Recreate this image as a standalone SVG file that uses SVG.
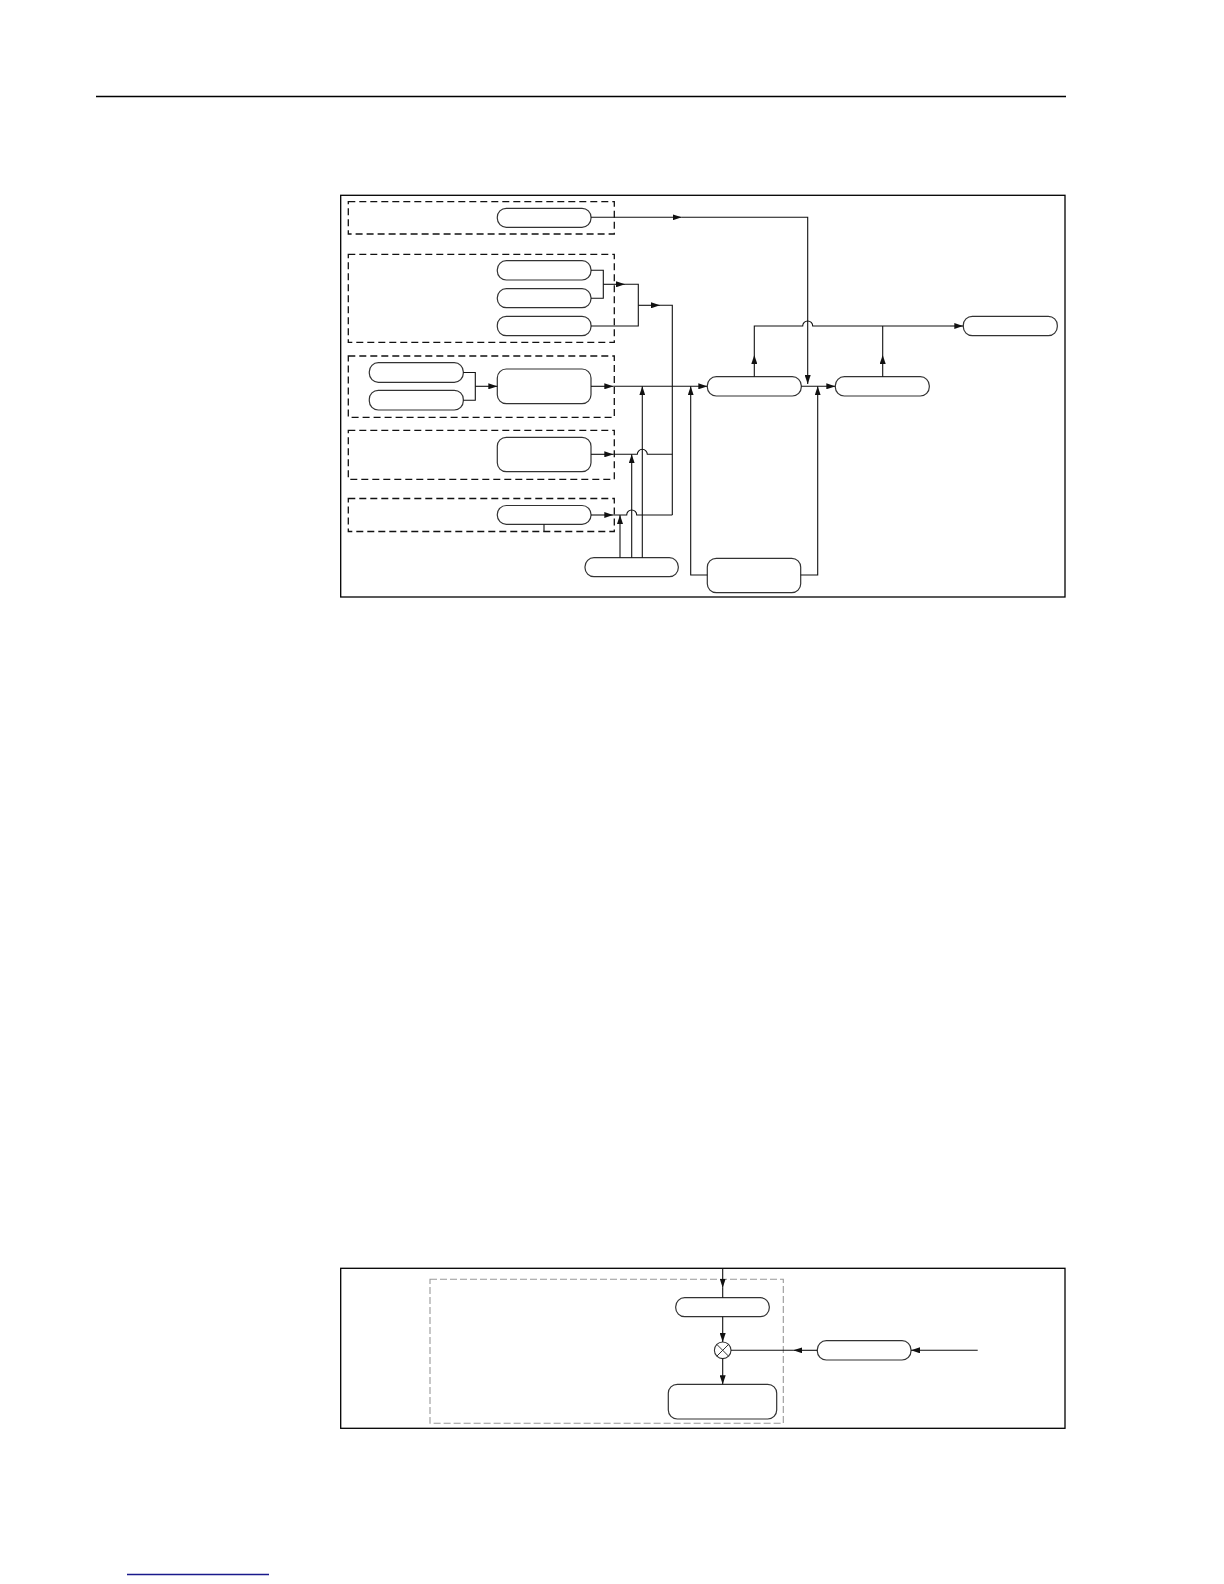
<svg xmlns="http://www.w3.org/2000/svg" width="1224" height="1584" viewBox="0 0 1224 1584">
<style>
.frame{fill:none;stroke:#000;stroke-width:1.3}
.dash{fill:none;stroke:#111;stroke-width:1.3;stroke-dasharray:7,4}
.dashg{fill:none;stroke:#999;stroke-width:1.1;stroke-dasharray:7,3}
.node{fill:#fff;stroke:#333;stroke-width:1.2}
.wire{fill:none;stroke:#111;stroke-width:1.1}
.arr{fill:none;stroke:#111;stroke-width:1.1;marker-end:url(#ah)}
</style>
<defs>
<marker id="ah" markerUnits="userSpaceOnUse" markerWidth="9" markerHeight="6" refX="9" refY="3" orient="auto">
<path d="M0,0 L9,3 L0,6 z" fill="#111"/>
</marker>
</defs>
<rect width="1224" height="1584" fill="#fff"/>
<line x1="96" y1="96.5" x2="1066" y2="96.5" stroke="#000" stroke-width="1.4"/>
<line x1="127" y1="1574.5" x2="269" y2="1574.5" stroke="#1a1a8c" stroke-width="1.4"/>

<g id="figure-top">
<rect class="frame" x="340.7" y="195.3" width="724.3" height="401.7"/>
<g id="group1"><rect class="dash" x="348.3" y="201.7" width="266" height="32.3"/></g>
<g id="group2"><rect class="dash" x="348.3" y="254.3" width="266" height="88"/></g>
<g id="group3"><rect class="dash" x="348.3" y="356" width="266" height="61.3"/></g>
<g id="group4"><rect class="dash" x="348.3" y="430.3" width="266" height="49"/></g>
<g id="group5"><rect class="dash" x="348.3" y="498.5" width="266" height="33"/></g>

<g id="n1"><rect class="node" x="497.3" y="208.3" width="93.7" height="19" rx="9"/></g>
<g id="n2a"><rect class="node" x="497.3" y="260.7" width="93.7" height="19.3" rx="9"/></g>
<g id="n2b"><rect class="node" x="497.3" y="288.7" width="93.7" height="19" rx="9"/></g>
<g id="n2c"><rect class="node" x="497.3" y="316.3" width="93.7" height="19.4" rx="9"/></g>
<g id="n3a"><rect class="node" x="369.3" y="362.7" width="94" height="19.6" rx="9"/></g>
<g id="n3b"><rect class="node" x="369.3" y="390.3" width="94" height="19.7" rx="9"/></g>
<g id="n3c"><rect class="node" x="497.3" y="369" width="93.7" height="34.7" rx="9"/></g>
<g id="n4"><rect class="node" x="497.3" y="437.3" width="93.7" height="34.4" rx="9"/></g>
<g id="n5"><rect class="node" x="497.3" y="505.5" width="93.7" height="18.8" rx="9"/></g>
<g id="nA"><rect class="node" x="707.3" y="376.7" width="94" height="19.3" rx="9"/></g>
<g id="nB"><rect class="node" x="835.3" y="376.7" width="94" height="19.3" rx="9"/></g>
<g id="nC"><rect class="node" x="963.3" y="316.3" width="94" height="19.4" rx="9"/></g>
<g id="nD"><rect class="node" x="585" y="557.7" width="93.3" height="19" rx="9"/></g>
<g id="nE"><rect class="node" x="707.3" y="558.3" width="93.4" height="34.4" rx="9"/></g>

<g id="connectors-top">
<path class="arr" d="M591,217.3 H681.7"/>
<path class="arr" d="M681.7,217.3 H807.7 V384"/>
<path class="wire" d="M591,270.3 H603.3 V298.3 H591"/>
<path class="arr" d="M603.3,284.3 H625"/>
<path class="wire" d="M625,284.3 H638.3 V326 H591"/>
<path class="arr" d="M638.3,305.3 H660"/>
<path class="wire" d="M660,305.3 H672.3 V515"/>
<path class="wire" d="M463.3,372.5 H475.3 V400.2 H463.3"/>
<path class="arr" d="M475.3,386.3 H497.3"/>
<path class="arr" d="M591,386.3 H613.3"/>
<path class="arr" d="M613.3,386.3 H707.3"/>
<path class="arr" d="M591,454.3 H613.3"/>
<path class="wire" d="M613.3,454.3 H637.3 A5,5 0 0 1 647.3,454.3 H672.3"/>
<path class="arr" d="M591,515 H613.3"/>
<path class="wire" d="M613.3,515 H626.7 A5,5 0 0 1 636.7,515 H672.3"/>
<path class="arr" d="M620,557.7 V515"/>
<path class="arr" d="M631.7,557.7 V454.3"/>
<path class="arr" d="M642.3,557.7 V386.3"/>
<path class="wire" d="M544,524.3 V531.5"/>
<path class="arr" d="M707.3,575 H690.7 V386.3"/>
<path class="arr" d="M800.7,575 H817.7 V386.3"/>
<path class="arr" d="M801.3,386.3 H835.3"/>
<path class="arr" d="M754.3,376.7 V355"/>
<path class="wire" d="M754.3,355 V326 H802.7 A5,5 0 0 1 812.7,326 H950"/>
<path class="arr" d="M882.7,376.7 V355"/>
<path class="wire" d="M882.7,355 V326"/>
<path class="arr" d="M950,326 H963.3"/>
</g>
</g>

<g id="figure-bottom">
<rect class="frame" x="340.7" y="1268.3" width="724.3" height="160"/>
<g id="groupB"><rect class="dashg" x="430" y="1279.3" width="353.3" height="144"/></g>
<g id="nF"><rect class="node" x="675.7" y="1297.7" width="93.6" height="19" rx="9"/></g>
<g id="nG"><rect class="node" x="668.3" y="1384.3" width="108.4" height="34.7" rx="9"/></g>
<g id="nH"><rect class="node" x="817.3" y="1340.7" width="93.7" height="19.3" rx="9"/></g>
<g id="mult">
<circle cx="722.7" cy="1350.3" r="8.3" fill="#fff" stroke="#333" stroke-width="1.1"/>
<path d="M716.8,1344.4 L728.6,1356.2 M728.6,1344.4 L716.8,1356.2" stroke="#333" stroke-width="1"/>
</g>
<g id="connectors-bottom">
<path class="arr" d="M722.7,1268.3 V1287.7"/>
<path class="wire" d="M722.7,1287.7 V1297.7"/>
<path class="arr" d="M722.7,1316.7 V1342"/>
<path class="arr" d="M722.7,1358.6 V1384.3"/>
<path class="arr" d="M817.3,1350.3 H793.3"/>
<path class="wire" d="M793.3,1350.3 H731"/>
<path class="arr" d="M977.7,1350.3 H911"/>
</g>
</g>
</svg>
